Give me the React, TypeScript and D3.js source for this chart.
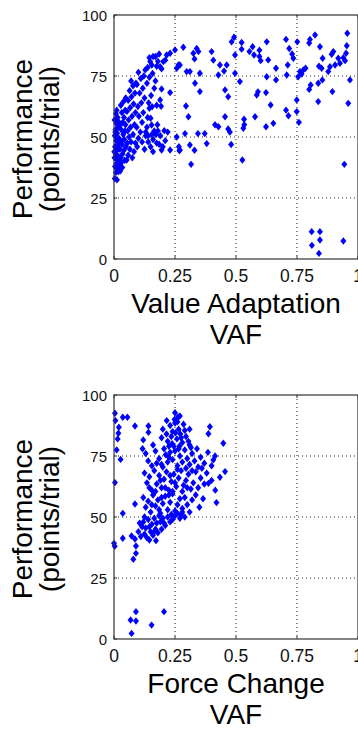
import React from "react";
import * as d3 from "d3";

const xTicks = [0, 0.25, 0.5, 0.75, 1];
const xTickLabels = ["0", "0.25", "0.5", "0.75", "1"];
const yTicks = [0, 25, 50, 75, 100];
const yTickLabels = ["0", "25", "50", "75", "100"];
const yTitle = ["Performance", "(points/trial)"];
const topXTitle = ["Value Adaptation", "VAF"];
const bottomXTitle = ["Force Change", "VAF"];

// Value Adaptation VAF vs performance
const valueAdaptationPoints: [number, number][] = [
  [0.956, 92.5], [0.954, 87.4], [0.951, 84.3], [0.947, 81.3], [0.94, 82.5], [0.899, 85], [0.892, 83.9], [0.919, 82.3],
  [0.926, 80.2], [0.906, 79.5], [0.967, 73.4], [0.96, 63.8], [0.895, 68.6], [0.854, 73.4], [0.851, 78.2], [0.855, 82.3],
  [0.844, 87], [0.824, 91.8], [0.803, 90], [0.8, 88.5], [0.84, 79], [0.837, 72], [0.806, 71.3], [0.8, 69.5],
  [0.837, 64.5], [0.776, 77.5], [0.769, 75.8], [0.762, 76.8], [0.755, 74.7], [0.751, 89], [0.749, 60.4], [0.758, 56],
  [0.705, 90], [0.718, 86.3], [0.73, 84], [0.735, 82.3], [0.712, 79.5], [0.708, 75.4], [0.705, 61], [0.715, 58.7],
  [0.664, 78.2], [0.664, 73.4], [0.653, 55.6], [0.623, 54.2], [0.642, 63.1], [0.626, 74.7], [0.632, 81.6], [0.626, 89],
  [0.623, 68.2], [0.585, 67.2], [0.59, 68.5], [0.601, 81.3], [0.596, 83], [0.578, 58.3], [0.533, 57.3], [0.53, 53.6],
  [0.516, 72.7], [0.496, 76.1], [0.496, 83.6], [0.482, 89], [0.492, 90.9], [0.523, 88.7], [0.523, 86], [0.555, 85],
  [0.568, 87], [0.574, 83.6], [0.596, 85.6], [0.455, 69.3], [0.468, 66.5], [0.455, 58.3], [0.475, 52], [0.428, 54.2],
  [0.414, 55], [0.428, 75.4], [0.462, 79.5], [0.434, 79.5], [0.451, 77], [0.4, 85], [0.407, 81.5], [0.352, 76.1],
  [0.352, 68.6], [0.332, 72], [0.298, 76.8], [0.311, 76.8], [0.295, 62.7], [0.305, 58.3], [0.346, 85], [0.33, 82],
  [0.325, 84.3], [0.339, 86.3], [0.284, 86.8], [0.27, 79.5], [0.257, 78.2], [0.264, 79.5], [0.25, 85.7], [0.23, 84.3],
  [0.216, 83.6], [0.23, 68.2], [0.195, 69.7], [0.195, 78], [0.202, 80.9], [0.189, 78.8], [0.18, 81], [0.148, 80.9],
  [0.145, 82.5], [0.16, 83], [0.175, 79], [0.189, 65.2], [0.193, 62.6], [0.175, 63], [0.156, 62.4], [0.145, 61.8],
  [0.15, 57.7], [0.154, 54.9], [0.165, 52.5], [0.13, 52], [0.206, 52.6], [0.785, 78.2], [0.749, 65.2], [0.878, 76.8],
  [0.885, 78.8], [0.316, 38.8], [0.526, 40.6], [0.944, 38.8], [0.81, 11.2], [0.844, 11.2], [0.844, 7.8], [0.811, 5.6],
  [0.84, 2.3], [0.94, 7.4], [0.257, 50], [0.291, 51.4], [0.344, 51.4], [0.372, 51.4], [0.38, 47.3], [0.311, 46.7],
  [0.33, 44.6], [0.266, 46], [0.268, 44.4], [0.48, 46.9], [0.468, 53.3], [0.534, 55], [0.23, 44.7], [0.195, 44.7],
  [0.27, 44.7],
  [0.003, 33], [0.008, 35.5], [0.012, 32.5], [0.018, 35.8], [0.004, 37.9], [0.01, 39], [0.015, 40.5], [0.002, 41.5],
  [0.007, 43], [0.019, 42], [0.012, 44.5], [0.004, 46], [0.016, 47], [0.009, 48.5], [0.02, 49.5], [0.003, 50.5],
  [0.013, 51.5], [0.006, 53], [0.018, 54], [0.01, 55.5], [0.002, 57], [0.015, 58], [0.008, 59.5], [0.02, 45.5],
  [0.001, 44], [0.014, 37], [0.022, 38.5], [0.005, 52], [0.017, 56.5], [0.011, 61],
  [0.025, 36], [0.03, 39.5], [0.028, 41.5], [0.035, 43], [0.024, 45], [0.04, 44.5], [0.033, 47], [0.027, 48.5],
  [0.042, 49], [0.038, 51], [0.03, 53], [0.045, 52.5], [0.026, 55], [0.036, 56], [0.041, 58], [0.032, 60],
  [0.046, 61], [0.028, 63], [0.039, 64.5], [0.048, 66], [0.044, 40.5], [0.049, 46], [0.034, 37.5], [0.047, 55],
  [0.052, 40.6], [0.058, 42.5], [0.065, 45], [0.055, 47.5], [0.07, 48], [0.062, 50], [0.078, 51], [0.056, 52.5],
  [0.068, 54], [0.084, 55], [0.06, 57], [0.074, 58.5], [0.088, 60], [0.053, 60.5], [0.066, 62], [0.08, 63.5],
  [0.058, 65], [0.072, 66.5], [0.086, 68], [0.064, 69], [0.078, 71], [0.09, 72], [0.07, 73], [0.082, 44],
  [0.088, 47.5], [0.075, 41.5],
  [0.095, 46], [0.1, 49.5], [0.108, 52], [0.093, 54], [0.115, 56], [0.102, 58.5], [0.12, 60], [0.098, 62.5],
  [0.112, 64], [0.125, 66], [0.105, 68], [0.118, 70], [0.094, 71.5], [0.11, 74], [0.122, 75], [0.1, 76.5],
  [0.128, 77.5], [0.115, 48], [0.125, 45], [0.13, 50.5],
  [0.135, 54], [0.14, 48], [0.15, 46], [0.16, 49], [0.172, 51], [0.185, 47], [0.178, 55], [0.138, 58],
  [0.142, 64], [0.152, 67], [0.165, 70], [0.135, 72], [0.145, 74.5], [0.158, 76], [0.17, 73], [0.138, 78.5],
  [0.155, 79.5],
  [0.14, 50.5], [0.16, 44], [0.175, 47.5], [0.19, 50.5], [0.2, 46], [0.21, 48.5], [0.22, 52], [0.18, 52.5],
  [0.155, 51], [0.17, 83], [0.185, 84], [0.21, 81.5],
];

// Force Change VAF vs performance
const forceChangePoints: [number, number][] = [
  [0.004, 92.5], [0.006, 89.5], [0.036, 90.9], [0.055, 90.9], [0.02, 86.8], [0.018, 84.3], [0.015, 82], [0.011, 77.5],
  [0.027, 73.6], [0.004, 64.1], [0.086, 87.3], [0.141, 87.3], [0.141, 84.7], [0.12, 81.6], [0.117, 78], [0.086, 55.3],
  [0.036, 51.5], [0, 39.2], [0.003, 38], [0.036, 41.3], [0.072, 42.2], [0.086, 41], [0.09, 38.1], [0.09, 35.1],
  [0.079, 32.7], [0.145, 40.6], [0.172, 40.3], [0.09, 11.2], [0.068, 7.8], [0.09, 7.4], [0.072, 2.3], [0.154, 5.7],
  [0.205, 11.2],
  [0.216, 89.5], [0.25, 92.7], [0.27, 91.4], [0.26, 89], [0.393, 87], [0.387, 84.1], [0.448, 80.2], [0.455, 68.6],
  [0.434, 66.3], [0.42, 55.9], [0.387, 63.8], [0.407, 73.4], [0.414, 75], [0.4, 71],
  [0.2, 86], [0.215, 84], [0.23, 87.5], [0.24, 85], [0.25, 88.5], [0.258, 82], [0.265, 86], [0.272, 84],
  [0.28, 80.5], [0.285, 88], [0.295, 83], [0.305, 81], [0.22, 81], [0.238, 80], [0.248, 90], [0.268, 79],
  [0.29, 85.5], [0.31, 86], [0.235, 83], [0.275, 82.5], [0.252, 84.5], [0.262, 91], [0.315, 78.5], [0.195, 82.5],
  [0.225, 79],
  [0.13, 76], [0.14, 73], [0.155, 71], [0.17, 77], [0.185, 74], [0.195, 71.5], [0.205, 78], [0.212, 75.5],
  [0.22, 72.5], [0.23, 76.5], [0.24, 73.5], [0.25, 77], [0.26, 71], [0.27, 75], [0.28, 72.5], [0.29, 77.5],
  [0.3, 74], [0.31, 71.5], [0.32, 76], [0.33, 73], [0.345, 70.5], [0.355, 74.5], [0.37, 72], [0.385, 76.5],
  [0.16, 79.5], [0.175, 72], [0.2, 70.5], [0.265, 78], [0.295, 70], [0.34, 78], [0.225, 74.5], [0.245, 79],
  [0.31, 79.5], [0.36, 70],
  [0.125, 68], [0.135, 64], [0.145, 66.5], [0.155, 61], [0.165, 69], [0.175, 63.5], [0.185, 67], [0.195, 62],
  [0.205, 65.5], [0.215, 68.5], [0.225, 61], [0.235, 64.5], [0.245, 67.5], [0.255, 62.5], [0.265, 66], [0.275, 69],
  [0.285, 63], [0.295, 65], [0.305, 67.5], [0.315, 61.5], [0.325, 64], [0.335, 68.5], [0.345, 62], [0.355, 66],
  [0.37, 63.5], [0.38, 68], [0.4, 65], [0.415, 61], [0.17, 60.5], [0.21, 62], [0.24, 60.5], [0.26, 69.5],
  [0.28, 60.5], [0.3, 62], [0.32, 69], [0.145, 62], [0.19, 65], [0.23, 67], [0.25, 64],
  [0.12, 58], [0.13, 54], [0.14, 56.5], [0.15, 52], [0.16, 59], [0.17, 54.5], [0.18, 57], [0.19, 51.5],
  [0.2, 55.5], [0.21, 58.5], [0.22, 53], [0.23, 56], [0.24, 59.5], [0.25, 52.5], [0.26, 55], [0.27, 57.5],
  [0.28, 53.5], [0.29, 58], [0.3, 55], [0.31, 52], [0.32, 57], [0.335, 59], [0.35, 54], [0.365, 57.5],
  [0.155, 55], [0.195, 58], [0.235, 51], [0.275, 51], [0.225, 59], [0.185, 53],
  [0.1, 44], [0.11, 42], [0.115, 46], [0.12, 48], [0.125, 43], [0.13, 45.5], [0.135, 41.5], [0.14, 49],
  [0.15, 44], [0.155, 47], [0.16, 42.5], [0.165, 49.5], [0.17, 45], [0.175, 47.5], [0.18, 43.5], [0.19, 48],
  [0.195, 45], [0.2, 49.5], [0.21, 46.5], [0.22, 50], [0.23, 48], [0.24, 49], [0.25, 50.5], [0.26, 51.5],
  [0.27, 49.5], [0.28, 52], [0.29, 50], [0.105, 47.5], [0.145, 46], [0.185, 50.5], [0.125, 50], [0.165, 44],
  [0.205, 47.5],
];

const FONT = "'Liberation Sans', Arial, Helvetica, sans-serif";

type PanelProps = {
  top: number;
  points: [number, number][];
  xTitle: string[];
};

const LEFT = 114;
const RIGHT = 358;
const SIZE = 244;

function Panel({ top, points, xTitle }: PanelProps) {
  const bottom = top + SIZE;
  const x = d3.scaleLinear().domain([0, 1]).range([LEFT, RIGHT]);
  const y = d3.scaleLinear().domain([0, 100]).range([bottom, top]);
  const diamond = "M0,-3.7L3,0L0,3.7L-3,0Z";
  const midY = (top + bottom) / 2;
  const midX = (LEFT + RIGHT) / 2;
  return (
    <g>
      {xTicks.slice(1, -1).map((t) => (
        <line key={"gx" + t} x1={x(t)} x2={x(t)} y1={top} y2={bottom} stroke="#222" strokeWidth={1} strokeDasharray="1,3" />
      ))}
      {yTicks.slice(1, -1).map((t) => (
        <line key={"gy" + t} x1={LEFT} x2={RIGHT} y1={y(t)} y2={y(t)} stroke="#222" strokeWidth={1} strokeDasharray="1,3" />
      ))}
      {xTicks.map((t) => (
        <g key={"tx" + t}>
          <line x1={x(t)} x2={x(t)} y1={bottom} y2={bottom - 3} stroke="#333" />
          <line x1={x(t)} x2={x(t)} y1={top} y2={top + 3} stroke="#333" />
        </g>
      ))}
      {yTicks.map((t) => (
        <line key={"ty" + t} x1={LEFT} x2={LEFT + 3} y1={y(t)} y2={y(t)} stroke="#333" />
      ))}
      {points.map((p, i) => (
        <path key={i} d={diamond} transform={`translate(${x(p[0])},${y(p[1])})`} fill="#0000ff" />
      ))}
      <rect x={LEFT} y={top} width={RIGHT - LEFT} height={SIZE} fill="none" stroke="#333" strokeWidth={1.2} />
      {xTicks.map((t, i) => (
        <text key={"lx" + t} x={x(t)} y={bottom + 23} textAnchor="middle" fontSize={17.5} fontFamily={FONT} fill="#111">
          {xTickLabels[i]}
        </text>
      ))}
      {yTicks.map((t, i) => (
        <text key={"ly" + t} x={LEFT - 7} y={y(t) + 5.5} textAnchor="end" fontSize={15} fontFamily={FONT} fill="#111">
          {yTickLabels[i]}
        </text>
      ))}
      <text x={midX} y={bottom + 54} textAnchor="middle" fontSize={28} fontFamily={FONT} fill="#000">
        {xTitle[0]}
      </text>
      <text x={midX} y={bottom + 85} textAnchor="middle" fontSize={28} fontFamily={FONT} fill="#000">
        {xTitle[1]}
      </text>
      <g transform={`translate(32,${midY + 2}) rotate(-90)`}>
        <text x={0} y={0} textAnchor="middle" fontSize={28} fontFamily={FONT} fill="#000">
          {yTitle[0]}
        </text>
        <text x={0} y={27} textAnchor="middle" fontSize={28} fontFamily={FONT} fill="#000">
          {yTitle[1]}
        </text>
      </g>
    </g>
  );
}

export default function App() {
  return (
    <svg
      width={358}
      height={729}
      style={{ position: "absolute", left: 0, top: 0, background: "#fff" }}
    >
      <rect x={0} y={0} width={358} height={729} fill="#fff" />
      <Panel top={15} points={valueAdaptationPoints} xTitle={topXTitle} />
      <Panel top={395} points={forceChangePoints} xTitle={bottomXTitle} />
    </svg>
  );
}
